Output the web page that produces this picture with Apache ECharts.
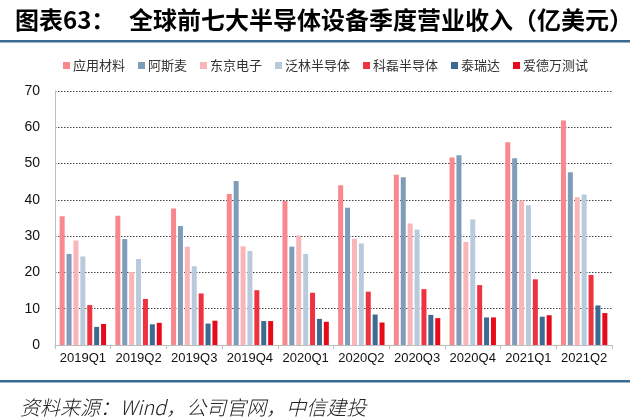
<!DOCTYPE html>
<html>
<head>
<meta charset="utf-8">
<script src="https://cdn.jsdelivr.net/npm/echarts@6/dist/echarts.min.js"></script>
<style>
  html, body { margin: 0; padding: 0; background: #fff; }
  #chart { width: 630px; height: 420px; }
</style>
</head>
<body>
<div id="chart"></div>
<script>
// 季度
var quarters = ['2019Q1','2019Q2','2019Q3','2019Q4','2020Q1','2020Q2','2020Q3','2020Q4','2021Q1','2021Q2'];
// 各公司季度营收（亿美元）
var amat   = [35.5, 35.6, 37.6, 41.6, 39.7, 44.0, 46.9, 51.7, 55.9, 61.9];
var asml   = [25.1, 29.2, 32.8, 45.2, 27.1, 37.8, 46.2, 52.3, 51.5, 47.6];
var tel    = [28.8, 20.1, 27.1, 27.2, 30.2, 29.3, 33.5, 28.4, 39.8, 40.7];
var lam    = [24.4, 23.7, 21.7, 25.9, 25.1, 28.0, 31.8, 34.6, 38.5, 41.5];
var kla    = [11.0, 12.7, 14.2, 15.1, 14.4, 14.7, 15.4, 16.5, 18.1, 19.3];
var teradyne = [5.0, 5.7, 5.9, 6.6, 7.2, 8.4, 8.3, 7.6, 7.8, 10.9];
var advantest = [5.8, 6.1, 6.7, 6.6, 6.4, 6.2, 7.4, 7.6, 8.2, 8.8];
var yTicks = [0, 10, 20, 30, 40, 50, 60, 70];

var seriesNames = ['应用材料','阿斯麦','东京电子','泛林半导体','科磊半导体','泰瑞达','爱德万测试'];
var seriesData = [amat, asml, tel, lam, kla, teradyne, advantest];
var colors = ['#F8888E','#7F9CB8','#F9B5B8','#B8CBDC','#EE3340','#3C6A91','#E8091A'];

var myChart = echarts.init(document.getElementById('chart'));

var series = [];
for (var i = 0; i < seriesNames.length; i++) {
    series.push({
        name: seriesNames[i],
        type: 'bar',
        barWidth: 5,
        barGap: '38%',
        itemStyle: { color: colors[i] },
        data: seriesData[i]
    });
}

var option = {
    animation: false,
    backgroundColor: '#fff',
    title: [
        {
            text: '{a|图表63：}{b|全球前七大半导体设备季度营业收入（亿美元）}',
            left: 10,
            top: 3,
            textStyle: {
                rich: {
                    a: { fontFamily: 'Noto Sans CJK SC', fontWeight: 'bold', fontSize: 24, color: '#000', width: 114 },
                    b: { fontFamily: 'Noto Sans CJK SC', fontWeight: 'bold', fontSize: 24, color: '#000' }
                }
            }
        },
        {
            text: '资料来源：Wind，公司官网，中信建投',
            left: 15,
            top: 392,
            textStyle: { fontFamily: 'Noto Sans CJK SC', fontStyle: 'italic', fontWeight: 300, fontSize: 20, color: '#222' }
        }
    ],
    legend: {
        data: seriesNames,
        left: 58,
        top: 54,
        itemWidth: 7,
        itemHeight: 7,
        itemGap: 13,
        icon: 'rect',
        textStyle: { fontFamily: 'Noto Sans CJK SC', fontSize: 13, color: '#333', padding: [0, 0, 0, -2] }
    },
    graphic: [
        { type: 'rect', left: 0, top: 40, shape: { width: 630, height: 2.5 }, style: { fill: '#3A6C93' } },
        { type: 'rect', left: 0, top: 380, shape: { width: 630, height: 2.5 }, style: { fill: '#3A6C93' } }
    ],
    grid: { left: 55, right: 18, top: 91, bottom: 75 },
    xAxis: {
        type: 'category',
        data: quarters,
        axisLine: { lineStyle: { color: '#BDBDBD', width: 1 } },
        axisTick: { show: true, alignWithLabel: false, length: 4, lineStyle: { color: '#BDBDBD' } },
        axisLabel: { interval: 0, fontFamily: 'Liberation Sans', fontSize: 13, color: '#111', margin: 7 }
    },
    yAxis: {
        type: 'value',
        min: yTicks[0],
        max: yTicks[yTicks.length - 1],
        interval: 10,
        axisLine: { show: true, lineStyle: { color: '#BDBDBD', width: 1 } },
        axisTick: { show: false },
        axisLabel: { fontFamily: 'Liberation Sans', fontSize: 14, color: '#111', margin: 15 },
        splitLine: { lineStyle: { color: '#444', type: [1.5, 1.5], width: 1 } }
    },
    series: series
};
myChart.setOption(option);
</script>
</body>
</html>
